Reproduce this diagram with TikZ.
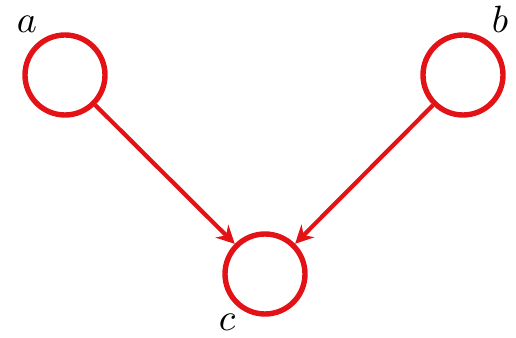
\documentclass[tikz,border=0pt]{standalone}
\usepackage{tikz}
\usetikzlibrary{arrows.meta}
\definecolor{NetRed}{RGB}{226,18,22}
\newcommand{\bigvar}[1]{\scalebox{3.8}{$#1$}}

\begin{document}
\begin{tikzpicture}[
        x=1pt, y=1pt,
        randvar/.style={
            circle,
            draw=NetRed,
            line width=5.4pt,
            minimum size=80pt,
            inner sep=0pt
        },
        depedge/.style={
            -{Stealth[length=18pt,width=18pt]},
            line width=4.2pt,
            draw=NetRed,
            shorten >=0pt
        },
        varlabel/.style={
            inner sep=0pt
        }
    ]
        \useasboundingbox (0,0) rectangle (516,337);
        \node[randvar] (a) at (65,262) {};
        \node[randvar] (b) at (463,262) {};
        \node[randvar] (c) at (265,63) {};

        \node[varlabel] (alabel) at (27,313) {\bigvar{a}};
        \node[varlabel] (blabel) at (500,318) {\bigvar{b}};
        \node[varlabel] (clabel) at (227,15) {\bigvar{c}};

        \draw[depedge] (a) -- (c);
        \draw[depedge] (b) -- (c);
    \end{tikzpicture}
\end{document}
